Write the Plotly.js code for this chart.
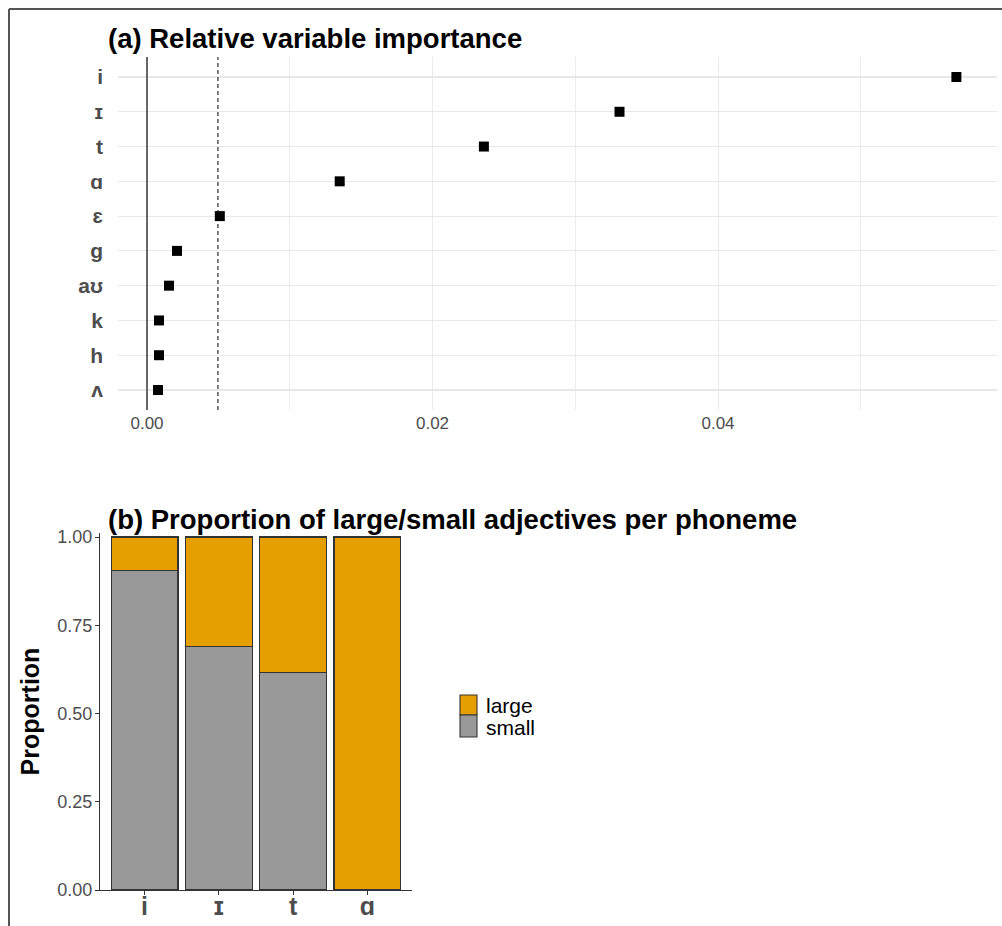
<!DOCTYPE html>
<html>
<head>
<meta charset="utf-8">
<script src="https://cdn.plot.ly/plotly-3.0.1.min.js"></script>
<style>html,body{margin:0;padding:0;background:#fff;} #chart{width:1002px;height:926px;}</style>
</head>
<body>
<div id="chart"></div>
<script>
// ---- Panel (a): relative variable importance ----
const phonemes = ["i", "ɪ", "t", "ɑ", "ɛ", "g", "aʊ", "k", "h", "ʌ"];
const importance = [0.0567, 0.0331, 0.0236, 0.0135, 0.0051, 0.0021, 0.00154, 0.00084, 0.00084, 0.00077];
const importanceThreshold = 0.00497;
const xTicksA = [0, 0.02, 0.04];
const xTickLabelsA = ["0.00", "0.02", "0.04"];

// ---- Panel (b): proportion of large/small adjectives ----
const topPhonemes = ["i", "ɪ", "t", "ɑ"];
const propSmall = [0.906, 0.689, 0.616, 0.0];
const propLarge = [0.094, 0.311, 0.384, 1.0];
const yTicksB = [0, 0.25, 0.5, 0.75, 1.0];
const yTickLabelsB = ["0.00", "0.25", "0.50", "0.75", "1.00"];
const legendNames = ["large", "small"];
const fillColors = {large: "#E69F00", small: "#999999"};

const W = 1002, H = 926;
const px = v => v / W;
const py = v => 1 - v / H;
const FONT = "Liberation Sans, Arial, sans-serif";
const GREY_TXT = "#4d4d4d";
const OUTLINE = "#333333";

const traces = [
  {
    type: "scatter", mode: "markers",
    x: importance, y: phonemes,
    xaxis: "x", yaxis: "y",
    marker: {symbol: "square", size: 10, color: "#000000"},
    showlegend: false, hoverinfo: "x+y"
  },
  {
    type: "bar", name: "small",
    x: topPhonemes, y: propSmall,
    xaxis: "x2", yaxis: "y2",
    width: 0.9, showlegend: false,
    marker: {color: fillColors.small, line: {color: OUTLINE, width: 1.1}}
  },
  {
    type: "bar", name: "large",
    x: topPhonemes, y: propLarge,
    xaxis: "x2", yaxis: "y2",
    width: 0.9, showlegend: false,
    marker: {color: fillColors.large, line: {color: OUTLINE, width: 1.1}}
  }
];

// legend (drawn as key boxes + labels, ggplot style)
const legendKeys = [
  {top: 695, bottom: 715, mid: 705},
  {top: 715, bottom: 737, mid: 727}
];
const legendShapes = legendNames.map((n, i) => ({
  type: "rect", xref: "paper", yref: "paper",
  x0: px(460), x1: px(477), y0: py(legendKeys[i].bottom), y1: py(legendKeys[i].top),
  fillcolor: fillColors[n], line: {color: OUTLINE, width: 1.1}
}));
const legendLabels = legendNames.map((n, i) => ({
  text: n, xref: "paper", yref: "paper",
  x: px(484), y: py(legendKeys[i].mid), xanchor: "left", yanchor: "middle",
  showarrow: false, font: {family: FONT, size: 21, color: "#000000"}
}));

const layout = {
  width: W, height: H,
  margin: {l: 0, r: 0, t: 0, b: 0},
  paper_bgcolor: "#ffffff",
  plot_bgcolor: "rgba(0,0,0,0)",
  font: {family: FONT, color: GREY_TXT},
  barmode: "stack",
  showlegend: false,
  xaxis: {
    domain: [px(118), px(997)],
    range: [(118 - 147) / 14275, (997 - 147) / 14275],
    anchor: "y",
    tickvals: xTicksA, ticktext: xTickLabelsA,
    tickfont: {size: 17, color: GREY_TXT},
    showgrid: true, gridcolor: "#ebebeb", gridwidth: 1,
    minor: {dtick: 0.01, tick0: 0, showgrid: true, gridcolor: "#ededed", gridwidth: 1},
    zeroline: false, showline: false, ticks: "",
    ticklabelstandoff: 1
  },
  yaxis: {
    domain: [py(410), py(57)],
    type: "category",
    categoryorder: "array", categoryarray: phonemes,
    range: [9.575, -0.575],
    anchor: "x",
    tickfont: {size: 21, color: GREY_TXT, weight: "bold"},
    showgrid: true, gridcolor: "#e8e8e8", gridwidth: 1.2,
    zeroline: false, showline: false, ticks: "",
    ticklabelstandoff: 14
  },
  xaxis2: {
    domain: [px(100), px(412)],
    type: "category",
    categoryorder: "array", categoryarray: topPhonemes,
    range: [-0.6, 3.6],
    anchor: "y2",
    tickfont: {size: 25, color: GREY_TXT, weight: "bold"},
    showgrid: false, zeroline: false,
    showline: true, linecolor: OUTLINE, linewidth: 1.2,
    ticks: "outside", ticklen: 4, tickcolor: OUTLINE,
    ticklabelstandoff: -10
  },
  yaxis2: {
    domain: [py(890), py(533)],
    range: [0, (890 - 533) / 353],
    anchor: "x2",
    tickvals: yTicksB, ticktext: yTickLabelsB,
    tickfont: {size: 18, color: GREY_TXT},
    showgrid: false, zeroline: false,
    showline: true, linecolor: OUTLINE, linewidth: 1.2,
    ticks: "outside", ticklen: 4, tickcolor: OUTLINE,
    ticklabelstandoff: -1,
    title: {text: "Proportion", font: {size: 25, color: "#000000", weight: "bold"}, standoff: 10}
  },
  shapes: [
    {type: "line", xref: "x", yref: "y domain", x0: 0, x1: 0, y0: 0, y1: 1,
     line: {color: "#444444", width: 1.6}},
    {type: "line", xref: "x", yref: "y domain", x0: importanceThreshold, x1: importanceThreshold, y0: 0, y1: 1,
     line: {color: "#000000", width: 1, dash: "4px,3px"}},
    {type: "line", xref: "paper", yref: "paper", x0: px(9), x1: 1, y0: py(9), y1: py(9),
     line: {color: "#555555", width: 2}},
    {type: "line", xref: "paper", yref: "paper", x0: px(9), x1: px(9), y0: 0, y1: py(9),
     line: {color: "#555555", width: 2}}
  ].concat(legendShapes),
  annotations: [
    {text: "(a) Relative variable importance", xref: "paper", yref: "paper",
     x: px(106), y: py(38), xanchor: "left", yanchor: "middle", showarrow: false,
     font: {family: FONT, size: 27.5, color: "#000000", weight: "bold"}},
    {text: "(b) Proportion of large/small adjectives per phoneme", xref: "paper", yref: "paper",
     x: px(106), y: py(519), xanchor: "left", yanchor: "middle", showarrow: false,
     font: {family: FONT, size: 27.5, color: "#000000", weight: "bold"}}
  ].concat(legendLabels)
};

Plotly.newPlot("chart", traces, layout, {displayModeBar: false, staticPlot: true});
</script>
</body>
</html>
